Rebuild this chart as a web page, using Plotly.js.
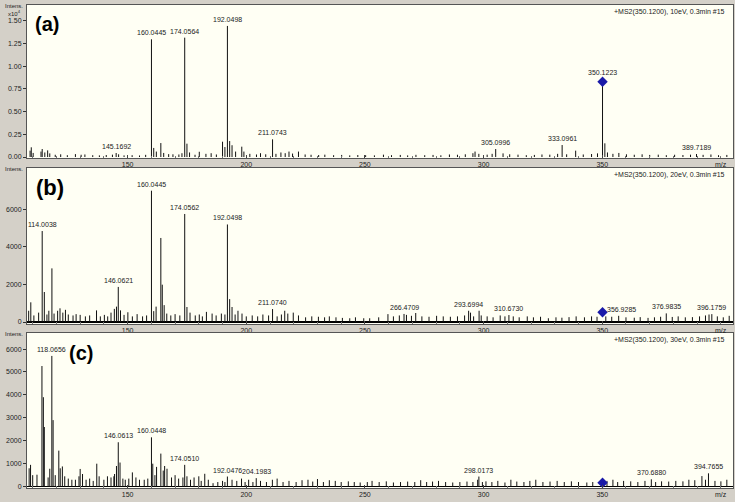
<!DOCTYPE html>
<html><head><meta charset="utf-8">
<script src="https://cdn.plot.ly/plotly-3.0.1.min.js"></script>
<style>html,body{margin:0;padding:0;background:#d4d0c8;} #chart{width:735px;height:502px;}</style>
</head><body><div id="chart"></div>
<script>
// ---------- data ----------
const panelNames = ['(a)', '(b)', '(c)'];
const runInfo = ['+MS2(350.1200), 10eV, 0.3min #15', '+MS2(350.1200), 20eV, 0.3min #15', '+MS2(350.1200), 30eV, 0.3min #15'];
const xTickVals = [150, 200, 250, 300, 350];
const aYTickVals = [0, 2500, 5000, 7500, 10000, 12500, 15000];
const aYTickText = ['0.00', '0.25', '0.50', '0.75', '1.00', '1.25', '1.50'];
const bYTickVals = [0, 2000, 4000, 6000];
const cYTickVals = [0, 1000, 2000, 3000, 4000, 5000, 6000];
const precursorMz = 350.1223;
const precursorInt = [8300, 520, 170];

// (a) 10 eV labelled peaks
const aLabelText = ['145.1692', '160.0445', '174.0564', '192.0498', '211.0743', '305.0996', '333.0961', '350.1223', '389.7189'];
const aLabelInt = [440, 12980, 13160, 14450, 1950, 880, 1320, 8300, 330];
// (a) other peaks
const aNoiseMz = [
  108.9,109.4,110.2,113.5,114.0,115.1,116.3,117.2,119.5,121.8,
  124.6,128.0,130.4,132.0,135.3,138.1,141.0,143.6,146.2,148.5,
  151.9,155.0,157.6,161.0,162.1,164.0,165.2,167.3,169.1,171.6,
  172.9,175.0,176.1,178.4,180.2,183.0,185.2,187.4,190.0,191.0,
  193.0,194.0,195.5,198.1,199.0,201.5,204.3,206.0,208.2,212.5,
  214.6,216.4,218.0,219.5,222.0,224.8,227.3,230.5,233.1,236.8,
  240.2,243.6,247.0,250.3,254.0,257.8,261.2,264.9,268.0,271.5,
  275.2,278.7,282.0,285.6,289.0,292.3,295.5,296.4,298.0,301.5,
  303.6,308.2,311.0,314.5,318.0,321.4,324.6,327.9,331.2,335.0,
  338.8,342.0,345.5,348.0,351.1,352.2,354.5,357.0,360.2,363.5,
  366.8,370.0,373.6,377.0,380.5,384.0,387.2,392.5,395.8,399.0,
  402.5];
const aNoiseInt = [
  700,1070,450,600,880,500,730,400,250,300,
  200,320,250,280,200,180,220,260,300,180,
  200,170,240,1000,600,1540,450,320,300,280,
  420,1470,500,250,580,350,420,280,1690,1100,
  1760,1300,600,1140,600,350,280,420,300,350,
  500,420,600,380,600,280,250,220,260,200,
  230,180,220,200,180,260,200,230,180,240,
  200,230,190,280,250,300,420,600,350,260,
  350,400,300,260,200,230,280,260,350,300,
  700,280,330,400,1510,500,350,450,300,250,
  300,230,260,200,250,220,260,240,280,200,
  230];

// (b) 20 eV labelled peaks
const bLabelText = ['114.0038', '146.0621', '160.0445', '174.0562', '192.0498', '211.0740', '266.4709', '293.6994', '310.6730', '356.9285', '376.9835', '396.1759'];
const bLabelInt = [4850, 1870, 7000, 5760, 5200, 690, 430, 600, 370, 330, 460, 420];
const bNoiseMz = [
  108.3,109.2,110.5,112.5,114.9,116.0,118.1,116.8,119.0,120.5,
  121.5,122.7,123.8,125.0,127.0,128.3,130.0,132.2,134.0,136.9,
  138.5,140.2,141.6,145.3,144.4,143.0,147.0,148.5,150.1,152.0,
  154.0,156.3,158.0,161.0,162.0,164.0,164.6,165.4,166.5,168.2,
  170.0,172.0,175.0,176.3,178.5,180.2,181.5,183.2,185.6,187.3,
  189.5,191.0,193.0,194.0,195.3,196.5,198.2,200.0,202.5,204.8,
  207.0,209.4,213.0,214.8,216.2,217.5,219.8,222.0,225.0,227.6,
  230.4,233.0,235.0,237.8,240.5,243.6,246.0,249.5,252.0,255.8,
  259.7,262.0,264.5,267.5,269.6,271.4,274.0,277.0,280.2,283.0,
  286.0,289.0,292.0,294.5,295.8,298.1,299.0,301.5,304.0,307.0,
  309.0,312.5,315.0,318.4,321.0,324.0,327.3,330.5,333.0,336.0,
  339.0,342.5,345.5,347.8,351.5,354.0,360.0,363.5,366.0,369.3,
  372.0,374.6,379.5,382.0,385.0,388.0,391.0,393.5,395.0,398.5,
  401.0,403.5];
const bNoiseInt = [
  600,1050,350,500,1600,400,2860,600,450,600,
  730,500,650,400,350,420,380,300,350,620,
  300,380,300,820,700,500,620,380,520,300,
  420,300,350,580,820,4480,1990,900,450,350,
  420,350,800,500,350,400,300,540,450,350,
  450,400,1220,800,400,600,450,300,350,300,
  400,350,300,400,600,450,500,350,250,300,
  280,250,300,250,220,200,250,200,200,250,
  420,300,350,380,330,480,300,280,330,300,
  280,300,350,500,300,600,350,300,250,350,
  300,300,250,300,250,280,200,250,230,260,
  300,250,300,280,300,280,250,230,260,220,
  250,280,270,300,250,260,300,350,400,300,
  250,330];

// (c) 30 eV labelled peaks
const cLabelText = ['118.0656', '146.0613', '160.0448', '174.0510', '192.0476', '204.1983', '298.0173', '370.6880', '394.7655'];
const cLabelInt = [5700, 1935, 2150, 950, 440, 370, 440, 320, 580];
const cNoiseMz = [
  108.5,109.1,110.0,111.8,113.9,114.5,114.9,116.5,117.2,118.6,
  119.5,121.0,121.6,122.5,123.5,125.0,126.5,128.0,129.5,130.0,
  131.0,132.5,134.0,135.5,137.0,138.0,140.0,141.5,143.0,145.3,
  144.5,144.2,146.8,148.0,149.0,150.5,152.0,153.5,155.0,157.0,
  158.5,160.6,161.5,162.2,164.0,165.0,165.6,166.6,168.5,170.0,
  171.5,173.3,175.0,176.5,178.0,180.0,181.0,182.5,184.0,186.0,
  188.0,190.0,191.0,194.0,196.0,198.0,199.5,201.0,202.8,206.0,
  208.5,211.0,213.0,215.5,218.0,221.0,223.5,226.0,228.0,230.0,
  232.5,235.0,237.5,240.0,243.0,245.5,248.0,251.0,253.0,256.0,
  259.0,262.0,265.0,268.0,271.0,273.5,276.0,278.5,281.0,284.0,
  287.0,290.0,293.0,295.5,297.5,299.5,301.0,303.5,306.0,309.0,
  311.5,314.0,317.0,319.5,322.0,325.0,328.0,331.0,334.0,337.0,
  340.0,343.5,346.0,352.0,354.5,356.5,359.0,362.0,365.0,368.0,
  372.5,375.0,378.0,381.0,384.0,386.5,389.0,392.0,393.5,397.5,
  400.0,402.5];
const cNoiseInt = [
  800,950,500,520,5260,3900,2600,400,780,2900,
  500,1570,800,880,450,350,300,300,450,770,
  550,300,350,250,1000,450,300,450,400,900,
  550,450,1050,350,300,350,620,400,300,300,
  350,1000,500,860,1440,700,900,780,400,500,
  350,400,450,300,400,450,250,560,300,150,
  200,250,200,300,250,350,200,300,200,250,
  200,300,350,200,250,200,280,300,220,330,
  200,280,250,200,230,200,180,200,250,200,
  230,180,200,220,200,280,200,220,250,200,
  180,200,220,200,300,200,230,200,250,180,
  300,220,200,250,300,200,220,250,200,230,
  200,180,200,250,300,200,250,230,200,250,
  200,230,220,250,230,300,280,460,300,250,
  230,300];

// ---------- build ----------
const FONT = 'Liberation Sans, Arial, sans-serif';
const panels = [
  {noiseMz: aNoiseMz, noiseInt: aNoiseInt, labText: aLabelText, labInt: aLabelInt, xa: 'x', ya: 'y'},
  {noiseMz: bNoiseMz, noiseInt: bNoiseInt, labText: bLabelText, labInt: bLabelInt, xa: 'x2', ya: 'y2'},
  {noiseMz: cNoiseMz, noiseInt: cNoiseInt, labText: cLabelText, labInt: cLabelInt, xa: 'x3', ya: 'y3'}
];

function sticks(mz, inten) {
  const xs = [], ys = [];
  mz.forEach((m, i) => { xs.push(m, m, null); ys.push(0, inten[i], null); });
  return {xs, ys};
}

const traces = [];
const annotations = [];
panels.forEach((p, k) => {
  const labMz = p.labText.map(parseFloat);
  const s = sticks(p.noiseMz.concat(labMz), p.noiseInt.concat(p.labInt));
  traces.push({type: 'scatter', mode: 'lines', x: s.xs, y: s.ys, xaxis: p.xa, yaxis: p.ya,
    line: {color: '#111111', width: 1}, hoverinfo: 'skip', showlegend: false});
  traces.push({type: 'scatter', mode: 'markers', x: [precursorMz], y: [precursorInt[k]], xaxis: p.xa, yaxis: p.ya,
    marker: {symbol: 'diamond', size: 8, color: '#1a1aa8'}, hoverinfo: 'skip', showlegend: false});
  p.labText.forEach((t, i) => {
    annotations.push({x: labMz[i], y: p.labInt[i], xref: p.xa, yref: p.ya, text: t, showarrow: false,
      yanchor: 'bottom', yshift: (t === '350.1223' ? 4 : 1), xshift: (t === '356.9285' ? 3 : 0),
      font: {family: FONT, size: 7, color: '#222'}});
  });
  const yd = p.ya + ' domain', xd = p.xa + ' domain';
  annotations.push({x: 0.992, y: 1, xref: xd, yref: yd, text: runInfo[k], showarrow: false, xanchor: 'right', yanchor: 'top', yshift: -1,
    font: {family: FONT, size: 7, color: '#222'}});
  annotations.push({x: 1, y: 0, xref: xd, yref: yd, text: 'm/z', showarrow: false, xanchor: 'right', yanchor: 'top', xshift: -4, yshift: -1,
    font: {family: FONT, size: 7, color: '#222'}});
  annotations.push({x: -0.034, y: 1, xref: 'paper', yref: yd, text: 'Intens.', showarrow: false, xanchor: 'left', yanchor: 'top', yshift: 4,
    font: {family: FONT, size: 6, color: '#222'}});
});
annotations.push({x: -0.03, y: 1, xref: 'paper', yref: 'y domain', text: 'x10<sup>4</sup>', showarrow: false, xanchor: 'left', yanchor: 'top', yshift: -2,
  font: {family: FONT, size: 6, color: '#222'}});
const tagPos = [[0.028, 0.879, 'y domain', 'x domain', 20], [0.033, 0.878, 'y2 domain', 'x2 domain', 22], [0.0765, 0.874, 'y3 domain', 'x3 domain', 20]];
panelNames.forEach((n, k) => {
  annotations.push({x: tagPos[k][0], y: tagPos[k][1], xref: tagPos[k][3], yref: tagPos[k][2], text: '<b>' + n + '</b>', showarrow: false,
    xanchor: 'center', yanchor: 'middle', font: {family: FONT, size: tagPos[k][4], color: '#000'}});
});

function xAxis(anchor) {
  return {anchor: anchor, range: [107.6, 405.1], tickvals: xTickVals, ticks: 'inside', ticklen: 3, tickcolor: '#444',
    minor: {dtick: 10, ticks: 'inside', ticklen: 2, tickcolor: '#777'},
    tickfont: {family: FONT, size: 7, color: '#222'}, showline: true, mirror: true, linecolor: '#555', linewidth: 1,
    showgrid: false, zeroline: false, fixedrange: true};
}
function yAxis(anchor, domain, range, tv, tt) {
  const o = {anchor: anchor, domain: domain, range: range, tickvals: tv, ticks: 'outside', ticklen: 3, tickcolor: '#333',
    tickfont: {family: FONT, size: 7, color: '#222'}, showline: true, mirror: true, linecolor: '#555', linewidth: 1,
    showgrid: false, zeroline: true, zerolinecolor: '#000', zerolinewidth: 1.5, fixedrange: true};
  if (tt) o.ticktext = tt;
  return o;
}

const layout = {
  width: 735, height: 502,
  margin: {l: 27, r: 2, t: 5, b: 14},
  paper_bgcolor: '#d4d0c8', plot_bgcolor: '#fffff4',
  showlegend: false, hovermode: false,
  xaxis: xAxis('y'), xaxis2: xAxis('y2'), xaxis3: xAxis('y3'),
  yaxis: yAxis('x', [0.6832, 1.0], [-110, 16760], aYTickVals, aYTickText),
  yaxis2: yAxis('x2', [0.3395, 0.6625], [-107, 8210], bYTickVals),
  yaxis3: yAxis('x3', [0, 0.3209], [-60, 6700], cYTickVals),
  annotations: annotations
};
Plotly.newPlot('chart', traces, layout, {staticPlot: true, displayModeBar: false});
</script>
</body></html>
